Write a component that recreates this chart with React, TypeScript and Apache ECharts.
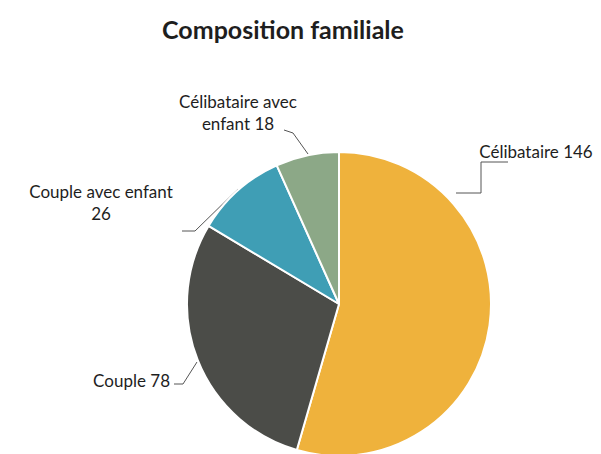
import React, { useEffect, useRef } from "react";
import * as echarts from "echarts";

const titleText = "Composition familiale";
const categories = ["Célibataire", "Couple", "Couple avec enfant", "Célibataire avec enfant"];
const values = [146, 78, 26, 18];
// label templates ({v} replaced by the value)
const labelTemplates = ["Célibataire {v}", "Couple {v}", "Couple avec enfant\n{v}", "Célibataire avec\nenfant {v}"];
const colors = ["#EFB23C", "#4B4C48", "#3F9EB5", "#8CA887"];

// label layout (positions only)
const labelPlacement = [
  { x: 536, y: 151, align: "center", line: [[456, 193], [481, 193], [481, 162], [508, 162]] },
  { x: 170, y: 380, align: "right", line: [[197, 362], [183, 384], [174, 384]] },
  { x: 101, y: 202, align: "center", line: [[238, 189], [195, 231], [182, 231]] },
  { x: 238, y: 112, align: "center", line: [[308, 154], [293, 133], [284, 130]] },
];

const FONT = "Lato, 'Open Sans', sans-serif";

export default function App() {
  const ref = useRef<HTMLDivElement>(null);
  useEffect(() => {
    if (!ref.current) return;
    const chart = echarts.init(ref.current, undefined, { renderer: "svg" });
    chart.setOption({
      animation: false,
      backgroundColor: "#ffffff",
      title: {
        text: titleText,
        left: 278,
        top: 11,
        textAlign: "center",
        textStyle: { fontFamily: FONT, fontSize: 25, fontWeight: "bold", color: "#1e1e1e" },
      },
      series: [
        {
          type: "pie",
          center: [339, 304],
          radius: 152,
          startAngle: 90,
          clockwise: true,
          avoidLabelOverlap: false,
          itemStyle: { borderColor: "#ffffff", borderWidth: 2 },
          label: {
            show: true,
            position: "outside",
            fontFamily: FONT,
            fontSize: 17,
            lineHeight: 22,
            color: "#1e1e1e",
            formatter: (p: any) => labelTemplates[p.dataIndex].replace("{v}", String(p.value)),
          },
          labelLine: { show: true, lineStyle: { color: "#555", width: 1 } },
          labelLayout: (params: any) => {
            const pl = labelPlacement[params.dataIndex];
            return {
              x: pl.x,
              y: pl.y,
              align: pl.align,
              verticalAlign: "middle",
              labelLinePoints: pl.line,
            };
          },
          data: categories.map((c, i) => ({
            name: c,
            value: values[i],
            itemStyle: { color: colors[i] },
          })),
        },
      ],
    });
    return () => chart.dispose();
  }, []);
  return (
    <div
      ref={ref}
      style={{ position: "absolute", left: 0, top: 0, width: 601, height: 454 }}
    />
  );
}
